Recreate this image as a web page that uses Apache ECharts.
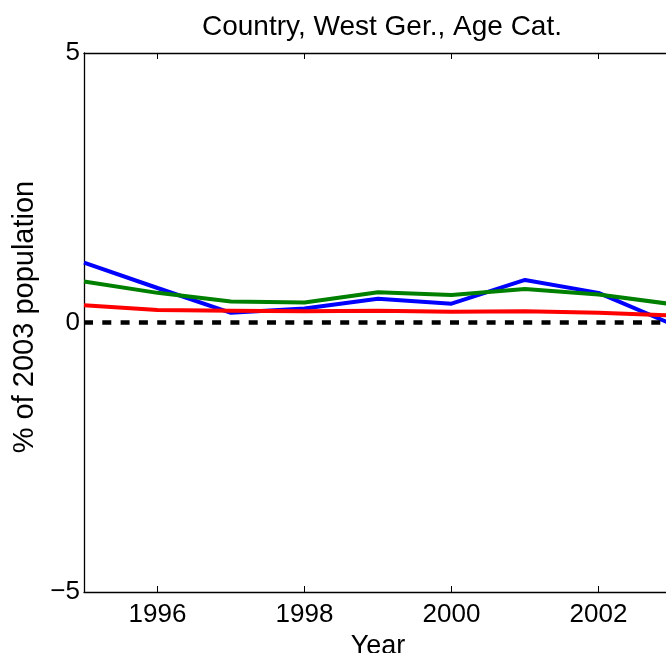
<!DOCTYPE html>
<html>
<head>
<meta charset="utf-8">
<script src="https://cdn.jsdelivr.net/npm/echarts@6/dist/echarts.min.js"></script>
<style>
  html, body { margin: 0; padding: 0; background: #fff; }
  #main { width: 666px; height: 653px; }
</style>
</head>
<body>
<div id="main"></div>
<script>
// years and the three age-category series
var years = [1995, 1996, 1997, 1998, 1999, 2000, 2001, 2002, 2003];
var blueVals  = [1.11, 0.64, 0.18, 0.26, 0.44, 0.35, 0.79, 0.55, -0.03];
var greenVals = [0.76, 0.55, 0.39, 0.37, 0.56, 0.51, 0.62, 0.52, 0.34];
var redVals   = [0.32, 0.23, 0.22, 0.21, 0.22, 0.20, 0.21, 0.18, 0.13];
var zeroLine  = [0, 0];
var zeroYears = [1995, 2003];
var xTicks = [1996, 1998, 2000, 2002];

function pairs(xs, ys) {
    return xs.map(function (x, i) { return [x, ys[i]]; });
}

var font = 'Liberation Sans, Arial, Helvetica, sans-serif';
var chart = echarts.init(document.getElementById('main'));

var option = {
    animation: false,
    title: {
        text: 'Country, West Ger., Age Cat.',
        left: 377,
        textAlign: 'center',
        top: 8,
        textStyle: { fontFamily: font, fontSize: 28, fontWeight: 'normal', color: '#000' }
    },
    grid: { left: 84, right: -6, top: 53, bottom: 61, outerBoundsMode: 'none', containLabel: false },
    xAxis: [{
        type: 'value',
        min: 1995,
        max: 2003,
        name: 'Year',
        nameLocation: 'middle',
        nameGap: 30,
        nameTextStyle: { fontFamily: font, fontSize: 27, color: '#000' },
        axisLine: { onZero: false, lineStyle: { color: '#000', width: 1.3 } },
        axisTick: { inside: true, length: 6, customValues: xTicks, lineStyle: { color: '#000' } },
        axisLabel: {
            customValues: xTicks, margin: 10,
            fontFamily: font, fontSize: 26, color: '#000',
            formatter: function (v) { return String(v); }
        },
        splitLine: { show: false }
    }, {
        type: 'value',
        position: 'top',
        min: 1995,
        max: 2003,
        axisLine: { show: true, onZero: false, lineStyle: { color: '#000', width: 1.3 } },
        axisTick: { inside: true, length: 6, customValues: xTicks, lineStyle: { color: '#000' } },
        axisLabel: { show: false },
        splitLine: { show: false }
    }],
    yAxis: {
        type: 'value',
        min: -5,
        max: 5,
        interval: 5,
        name: '% of 2003 population',
        nameLocation: 'middle',
        nameRotate: 90,
        nameGap: 42,
        nameTextStyle: { fontFamily: font, fontSize: 29, color: '#000', padding: [0, 0, 0, 11] },
        axisLine: { show: true, onZero: false, lineStyle: { color: '#000', width: 1.3 } },
        axisTick: { inside: true, length: 6, lineStyle: { color: '#000' } },
        axisLabel: {
            margin: 4,
            fontFamily: font, fontSize: 26, color: '#000',
            formatter: function (v) { return v < 0 ? '\u2212' + Math.abs(v) : String(v); }
        },
        splitLine: { show: false }
    },
    series: [
        {
            type: 'line', data: pairs(years, blueVals), showSymbol: false,
            lineStyle: { color: '#0000ff', width: 4 }
        },
        {
            type: 'line', data: pairs(years, greenVals), showSymbol: false,
            lineStyle: { color: '#008000', width: 4 }
        },
        {
            type: 'line', data: pairs(years, redVals), showSymbol: false,
            lineStyle: { color: '#ff0000', width: 4 }
        },
        {
            type: 'line', data: pairs(zeroYears, zeroLine), showSymbol: false,
            lineStyle: { color: '#000', width: 4.5, type: [9, 9.3] }
        }
    ]
};

chart.setOption(option);
</script>
</body>
</html>
